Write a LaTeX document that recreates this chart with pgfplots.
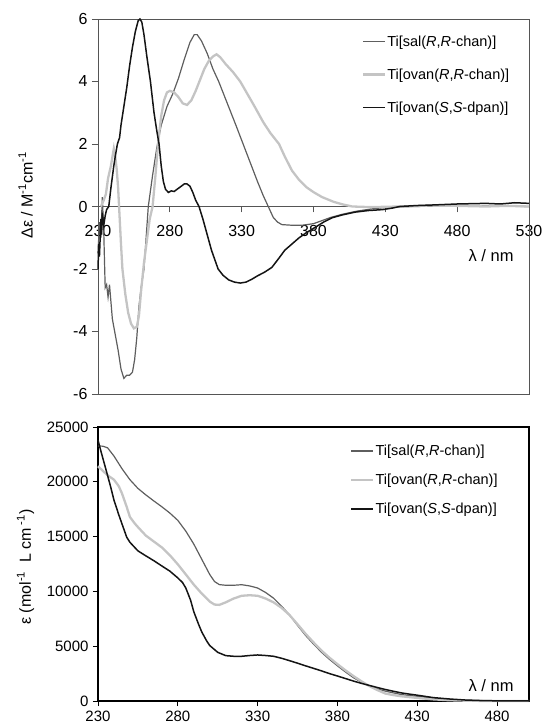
\documentclass[border=0pt]{standalone}
\usepackage{fontspec}
\setmainfont{Liberation Sans}
\usepackage{pgfplots}
\pgfplotsset{compat=1.18}
\definecolor{cdark}{HTML}{5E5E5E}
\definecolor{clight}{HTML}{C4C4C4}
\definecolor{cblack}{HTML}{141414}
\definecolor{caxis}{HTML}{555555}
\pgfplotsset{
  myleg/.style={legend image code/.code={\draw[##1] (0pt,0pt) -- (22pt,0pt);}},
}
\begin{document}
\begin{tikzpicture}[x=1pt,y=1pt]
\useasboundingbox (0,0) rectangle (546,725);
% ---------------- top: CD ----------------
\begin{axis}[
  at={(98pt,331pt)}, anchor=south west, scale only axis,
  width=431pt, height=375pt,
  xmin=230, xmax=530, ymin=-6, ymax=6,
  axis x line=middle, axis y line=left,
  axis line style={-, draw=caxis, line width=0.8pt},
  every inner x axis line/.append style={-},
  every outer y axis line/.append style={-},
  hide obscured x ticks=false, hide obscured y ticks=false,
  xtick={230,280,...,530}, ytick={-6,-4,...,6},
  tick align=outside, major tick length=6pt,
  tick style={draw=caxis, line width=0.8pt},
  /pgf/number format/assume math mode=true,
  ticklabel style={font=\fontsize{16}{18}\selectfont},
  xticklabel style={yshift=-9pt},
  yticklabel style={xshift=-1pt},
  clip=false,
  myleg,
  legend cell align=left,
  legend style={draw=none, fill=none, inner sep=0pt, row sep=19pt,
    nodes={inner sep=1pt}, font=\fontsize{14.5}{16}\selectfont,
    at={(rel axis cs:0.612,0.959)}, anchor=north west},
]
\draw[caxis, line width=0.8pt] (rel axis cs:0,0) rectangle (rel axis cs:1,1);
\addplot[cdark, line width=1.2pt] coordinates {
(230,-1.5)(231,-0.5)(232,-1.0)(233,0.3)(234,-0.8)(235,-2.6)(236,-2.5)(237,-2.9)(238,-2.5)
(240,-3.6)(242,-4.1)(244,-4.6)(246,-5.2)(248,-5.5)(250,-5.4)(252,-5.4)(254,-5.3)(255.5,-4.9)
(257,-4.2)(258.5,-3.2)(260,-2.6)(262,-2.0)(263.5,-1.0)(265,0)(268,1.0)(271,1.9)(274,2.6)
(278,3.2)(282,3.6)(286,4.1)(290,4.7)(294,5.25)(297,5.5)(299,5.5)(302,5.3)(306,4.9)(310,4.4)
(314,4.0)(320,3.3)(326,2.6)(331,2.0)(336,1.4)(341,0.8)(345,0.35)(348.5,0)(352,-0.35)(355,-0.5)
(358,-0.58)(365,-0.6)(372,-0.6)(380,-0.55)(386,-0.45)(392,-0.35)(400,-0.25)(410,-0.15)
(420,-0.08)(430,-0.03)(450,0)(480,0.02)(510,0.01)(530,0.0)
};
\addlegendentry{Ti[sal(\textit{R},\textit{R}-chan)]}
\addplot[clight, line width=2.3pt] coordinates {
(232,0)(234,0.2)(235.5,0.4)(237,0.9)(239,1.3)(241,1.85)(242,1.6)(243,1.2)(244,0.6)(245,-0.3)
(246,-1.2)(247,-2.0)(249,-2.8)(251,-3.4)(253,-3.75)(255,-3.9)(257,-3.85)(258.5,-3.5)(260,-2.7)
(262,-1.8)(264,-1.1)(266,-0.4)(268,0)(270,1.0)(272,2.1)(274,2.9)(276,3.4)(278,3.65)(280,3.7)
(283,3.65)(286,3.5)(289,3.3)(292,3.25)(295,3.4)(298,3.7)(301,4.05)(304,4.4)(307,4.65)(310,4.8)
(312.5,4.87)(315,4.78)(319,4.55)(324,4.3)(329,4.0)(334,3.6)(339,3.2)(345,2.7)(350,2.35)
(356,2.0)(360,1.6)(365,1.15)(370,0.85)(375,0.62)(380,0.46)(386,0.3)(394,0.15)(400,0.07)
(407,0.0)(420,-0.02)(440,0.0)(460,0.03)(480,0.02)(500,0.0)(515,0.02)(530,0.0)
};
\addlegendentry{Ti[ovan(\textit{R},\textit{R}-chan)]}
\addplot[cblack, line width=1.5pt] coordinates {
(230,-2.0)(230.5,-1.2)(231,-1.6)(232,-0.4)(232.5,-0.9)(233,-0.2)(234,-0.6)(235,-0.3)(236,-0.1)
(237.5,0)(239,0.6)(241,1.3)(242,1.6)(243.5,2.0)(245,2.2)(246,2.6)(248,3.2)(250,3.8)(252,4.5)
(254,5.1)(256,5.6)(258,5.95)(259.2,6.0)(260.5,5.9)(262,5.5)(264,4.8)(266.5,4.0)(269,3.0)
(271,2.4)(272.5,2.0)(274,1.3)(275.5,0.8)(277,0.55)(279,0.45)(281,0.5)(283,0.48)(285,0.55)
(288,0.65)(290,0.72)(292,0.72)(294,0.65)(296,0.45)(298,0.2)(300.3,0)(303,-0.4)(306,-0.9)
(309,-1.4)(313.6,-2.0)(317,-2.2)(321,-2.35)(325,-2.42)(329,-2.45)(333,-2.42)(337,-2.33)
(341,-2.22)(346,-2.1)(351,-1.95)(356,-1.65)(360,-1.4)(365,-1.2)(370,-1.0)(375,-0.84)
(380,-0.7)(387,-0.5)(393,-0.36)(400,-0.27)(409,-0.18)(418,-0.13)(428,-0.1)(435,-0.05)(440,0)
(452,0.03)(464,0.05)(480,0.08)(490,0.09)(500,0.1)(510,0.08)(520,0.12)(530,0.1)
};
\addlegendentry{Ti[ovan(\textit{S},\textit{S}-dpan)]}
\node[rotate=90, font=\fontsize{16}{18}\selectfont] at (rel axis cs:-0.168,0.53)
  {Δε / M\textsuperscript{-1}cm\textsuperscript{-1}};
\node[font=\fontsize{16.5}{18}\selectfont] at (rel axis cs:0.912,0.368) {λ / nm};
\end{axis}
% ---------------- bottom: UV-vis ----------------
\begin{axis}[
  at={(98pt,24pt)}, anchor=south west, scale only axis,
  width=431pt, height=274pt,
  xmin=230, xmax=500, ymin=0, ymax=25000,
  axis line style={line width=1.3pt, draw=black},
  xtick={230,280,...,480}, ytick={0,5000,...,25000},
  xtick pos=bottom, ytick pos=left,
  tick align=outside, major tick length=5pt,
  tick style={draw=black, line width=0.9pt},
  scaled y ticks=false,
  /pgf/number format/1000 sep={},
  /pgf/number format/assume math mode=true,
  ticklabel style={font=\fontsize{15}{17}\selectfont},
  xticklabel style={yshift=-1pt},
  yticklabel style={xshift=-1pt},
  clip=false,
  myleg,
  legend cell align=left,
  legend style={draw=none, fill=none, inner sep=0pt, row sep=15pt,
    nodes={inner sep=1pt}, font=\fontsize{14.5}{16}\selectfont,
    at={(rel axis cs:0.585,0.939)}, anchor=north west},
]
\addplot[cdark, line width=1.2pt] coordinates {
(230,23270)(233,23250)(236,23100)(240,22350)(245,21200)(250,20190)(255,19400)(260,18800)
(265,18250)(270,17720)(275,17150)(280,16480)(285,15500)(290,14320)(295,12930)(300,11540)
(303,10900)(306,10620)(310,10560)(315,10560)(320,10610)(325,10500)(330,10310)(335,9900)
(340,9380)(345,8650)(350,7840)(355,6900)(360,5990)(365,5200)(370,4450)(375,3800)(380,3210)
(385,2650)(390,2130)(395,1720)(400,1360)(405,1100)(410,900)(415,740)(420,590)(425,500)
(430,430)(440,250)(450,120)(460,60)(470,20)(480,5)(490,0)(500,0)
};
\addlegendentry{Ti[sal(\textit{R},\textit{R}-chan)]}
\addplot[clight, line width=2.3pt] coordinates {
(230,21420)(233,21000)(236,20600)(240,20190)(243,19600)(245,18950)(248,17700)(250,16790)
(253,16200)(255,15870)(258,15400)(260,15090)(265,14550)(270,14010)(275,13300)(280,12470)
(285,11550)(290,10620)(295,9800)(300,9070)(303,8800)(306,8770)(310,9000)(315,9350)(320,9600)
(325,9650)(330,9600)(335,9350)(340,9000)(345,8500)(350,7840)(355,7000)(360,6140)(365,5350)
(370,4600)(375,3950)(380,3360)(385,2800)(390,2280)(395,1800)(400,1360)(405,1000)(410,680)
(415,540)(420,430)(430,280)(440,150)(450,70)(460,30)(470,10)(480,0)(500,0)
};
\addlegendentry{Ti[ovan(\textit{R},\textit{R}-chan)]}
\addplot[cblack, line width=1.5pt] coordinates {
(230,23800)(232,22700)(235,21110)(238,19500)(240,18330)(243,17000)(245,16170)(248,14940)
(250,14480)(255,13700)(260,13240)(265,12800)(270,12320)(275,11850)(280,11230)(283,10800)
(285,10310)(288,9200)(290,8150)(293,7000)(295,6300)(298,5500)(300,5060)(305,4440)(310,4140)
(315,4080)(320,4080)(325,4150)(330,4200)(335,4150)(340,4080)(345,3900)(350,3680)(355,3450)
(360,3210)(365,2980)(370,2750)(375,2500)(380,2280)(385,2050)(390,1820)(395,1610)(400,1420)
(405,1230)(410,1050)(415,890)(420,740)(425,630)(430,530)(440,310)(450,185)(460,90)(470,40)
(480,15)(490,5)(500,0)
};
\addlegendentry{Ti[ovan(\textit{S},\textit{S}-dpan)]}
\node[rotate=90, font=\fontsize{16}{18}\selectfont] at (rel axis cs:-0.168,0.489)
  {ε (mol\textsuperscript{-1}\ \ L cm\,\textsuperscript{-1})};
\node[font=\fontsize{16.5}{18}\selectfont] at (rel axis cs:0.912,0.055) {λ / nm};
\end{axis}
\end{tikzpicture}
\end{document}
